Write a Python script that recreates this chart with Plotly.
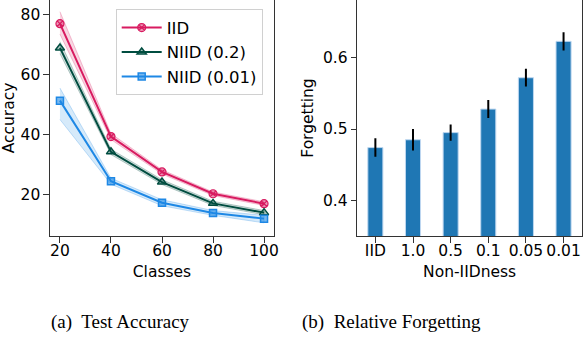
import plotly.graph_objects as go

classes = [20, 40, 60, 80, 100]
iid_acc = [77.0, 39.3, 27.5, 20.2, 16.9]
iid_lo = [73.5, 38.3, 26.8, 19.6, 16.3]
iid_hi = [81.0, 40.3, 28.2, 20.8, 17.5]
niid02_acc = [68.9, 34.2, 24.1, 17.0, 13.9]
niid02_lo = [67.0, 33.3, 23.3, 16.3, 13.2]
niid02_hi = [71.0, 35.1, 24.9, 17.7, 14.6]
niid001_acc = [51.3, 24.4, 17.2, 13.8, 11.9]
niid001_lo = [45.0, 23.4, 16.2, 13.0, 10.5]
niid001_hi = [55.5, 25.4, 18.2, 14.6, 13.0]

noniid_labels = ["IID", "1.0", "0.5", "0.1", "0.05", "0.01"]
forgetting = [0.474, 0.485, 0.495, 0.528, 0.572, 0.623]
forgetting_err = [0.013, 0.015, 0.0115, 0.0126, 0.0124, 0.0129]

C_IID = "#D81B60"
C_N02 = "#004D40"
C_N001 = "#1E88E5"

FONT = "DejaVu Sans"
FS = 15.5

fig = go.Figure()

def band(x, lo, hi, rgb):
    fig.add_trace(go.Scatter(
        x=list(x) + list(x)[::-1], y=list(hi) + list(lo)[::-1],
        fill="toself", fillcolor=f"rgba({rgb},0.18)",
        line=dict(color=f"rgba({rgb},0.25)", width=1),
        mode="lines", showlegend=False, hoverinfo="skip",
        xaxis="x", yaxis="y"))

band(classes, iid_lo, iid_hi, "216,27,96")
band(classes, niid02_lo, niid02_hi, "0,77,64")
band(classes, niid001_lo, niid001_hi, "30,136,229")

fig.add_trace(go.Scatter(
    x=classes, y=iid_acc, name="IID", mode="lines+markers",
    line=dict(color=C_IID, width=2),
    marker=dict(symbol="circle-x", size=8, color="rgba(216,27,96,0.45)",
                line=dict(color=C_IID, width=1.2)),
    xaxis="x", yaxis="y"))
fig.add_trace(go.Scatter(
    x=classes, y=niid02_acc, name="NIID (0.2)", mode="lines+markers",
    line=dict(color=C_N02, width=2),
    marker=dict(symbol="triangle-up", size=8, color="rgba(0,77,64,0.35)",
                line=dict(color=C_N02, width=1.5)),
    xaxis="x", yaxis="y"))
fig.add_trace(go.Scatter(
    x=classes, y=niid001_acc, name="NIID (0.01)", mode="lines+markers",
    line=dict(color=C_N001, width=2),
    marker=dict(symbol="square", size=7, color="rgba(30,136,229,0.6)",
                line=dict(color=C_N001, width=1.5)),
    xaxis="x", yaxis="y"))

fig.add_trace(go.Bar(
    x=list(range(len(noniid_labels))), y=forgetting, width=0.4,
    marker=dict(color="#1f77b4", line=dict(color="rgba(190,215,240,1)", width=1)),
    error_y=dict(type="data", array=forgetting_err, color="black", thickness=2, width=0),
    showlegend=False, xaxis="x2", yaxis="y2"))

W, H = 584, 346
axis_common = dict(showline=True, linecolor="#333333", linewidth=1.3, mirror=True,
                   ticks="outside", ticklen=5.5, tickcolor="#333333", showgrid=False,
                   zeroline=False, automargin=False,
                   tickfont=dict(family=FONT, size=FS, color="black"))

fig.update_layout(
    width=W, height=H, margin=dict(l=0, r=0, t=0, b=0),
    paper_bgcolor="white", plot_bgcolor="white",
    font=dict(family=FONT, size=FS, color="black"),
    xaxis=dict(domain=[50 / W, 274 / W], range=[16.1, 103.9], tickvals=classes,
               ticklabelstandoff=-5,
               title=dict(text="Classes", font=dict(family=FONT, size=FS), standoff=6),
               anchor="y", **axis_common),
    yaxis=dict(domain=[(H - 236) / H, 1.0], range=[6.1, 84.9], tickvals=[20, 40, 60, 80],
               title=dict(text="Accuracy", font=dict(family=FONT, size=FS), standoff=5),
               anchor="x", **axis_common),
    xaxis2=dict(domain=[357.3 / W, 582 / W], range=[-0.48, 5.49],
                tickvals=list(range(len(noniid_labels))), ticktext=noniid_labels,
                ticklabelstandoff=-5,
                title=dict(text="Non-IIDness", font=dict(family=FONT, size=FS), standoff=6),
                anchor="y2", **axis_common),
    yaxis2=dict(domain=[(H - 236) / H, 1.0], range=[0.35, 0.681],
                tickvals=[0.4, 0.5, 0.6], ticktext=["0.4", "0.5", "0.6"],
                title=dict(text="Forgetting", font=dict(family=FONT, size=FS), standoff=5),
                anchor="x2", **axis_common),
    legend=dict(x=115.7 / W, y=1 - 9.3 / H, xanchor="left", yanchor="top",
                bgcolor="rgba(255,255,255,0.8)", bordercolor="#d0d0d0", borderwidth=1,
                font=dict(family=FONT, size=16.5), tracegroupgap=0, itemwidth=40),
    annotations=[
        dict(text="(a)  Test Accuracy", x=120 / W, y=1 - 322 / H, xref="paper", yref="paper",
             xanchor="center", yanchor="middle",
             showarrow=False, font=dict(family="Liberation Serif", size=19, color="black")),
        dict(text="(b)  Relative Forgetting", x=391 / W, y=1 - 322 / H, xref="paper", yref="paper",
             xanchor="center", yanchor="middle",
             showarrow=False, font=dict(family="Liberation Serif", size=19, color="black")),
    ],
)

fig.write_html("out.html", config={"displayModeBar": False},
               post_script="document.body.style.margin='0';document.body.style.overflow='hidden';")
